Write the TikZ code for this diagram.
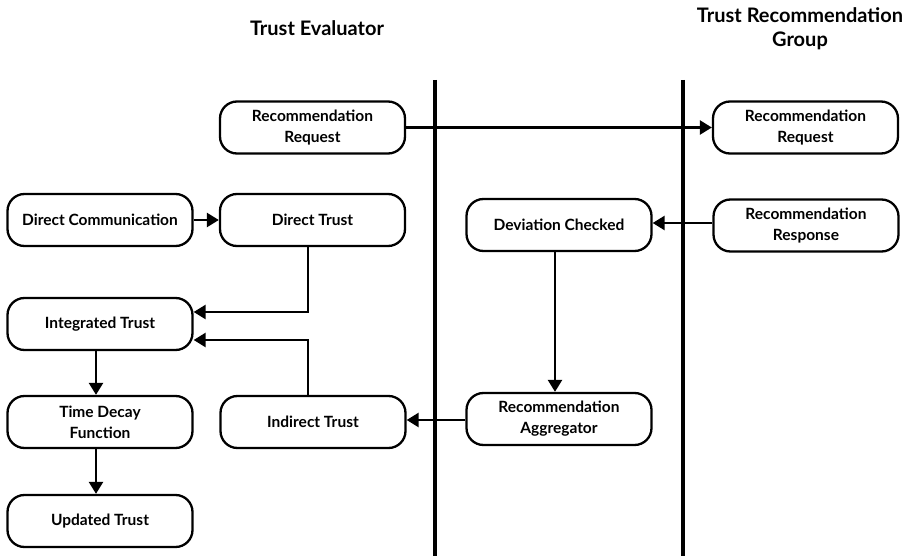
\documentclass[tikz,border=0pt]{standalone}
\usepackage{fontspec}
\setmainfont{Lato}
\usetikzlibrary{arrows.meta}
\begin{document}
\begin{tikzpicture}[x=1pt,y=-1pt,
  box/.style={draw, line width=2.3pt, rounded corners=17pt, minimum width=185pt, minimum height=52pt, align=center, inner sep=0pt, font=\fontsize{15.5}{21}\selectfont\bfseries},
  head/.style={align=center, font=\fontsize{20}{24}\selectfont\bfseries},
  conn/.style={line width=2.5pt, -{Triangle[length=12pt,width=14pt]}},
  lane/.style={line width=4pt}]
\useasboundingbox (0,0) rectangle (910,559);
\node[head] (h1) at (317,28) {Trust Evaluator};
\node[head] (h2) at (800,29) {Trust Recommendation\\Group};
\coordinate (l1t) at (435,80); \coordinate (l1b) at (435,556);
\coordinate (l2t) at (683,80); \coordinate (l2b) at (683,556);
\draw[lane] (l1t) -- (l1b);
\draw[lane] (l2t) -- (l2b);
\node[box] (rr1) at (312.5,127.5) {Recommendation\\Request};
\node[box] (rr2) at (805.5,127.5) {Recommendation\\Request};
\node[box] (dc) at (100,220) {Direct Communication};
\node[box] (dt) at (312.5,220) {Direct Trust};
\node[box] (it) at (100,324) {Integrated Trust};
\node[box] (td) at (100,422) {Time Decay\\Function};
\node[box] (ut) at (100,521) {Updated Trust};
\node[box] (ind) at (313,422) {Indirect Trust};
\node[box] (dev) at (559,225) {Deviation Checked};
\node[box] (resp) at (806,225.5) {Recommendation\\Response};
\node[box] (agg) at (559,419) {Recommendation\\Aggregator};
\draw[conn] (rr1) -- (rr2);
\draw[conn] (dc) -- (dt);
\draw[conn] (dt.south -| 308,0) |- (it.east |- 0,312);
\draw[conn] (ind.north -| 308,0) |- (it.east |- 0,340);
\draw[conn] (it.south -| 96,0) -- (td.north -| 96,0);
\draw[conn] (td.south -| 96,0) -- (ut.north -| 96,0);
\draw[conn] (resp.west |- 0,223) -- (dev.east |- 0,223);
\draw[conn] (dev.south -| 555,0) -- (agg.north -| 555,0);
\draw[conn] (agg.west |- 0,420) -- (ind.east |- 0,420);
\end{tikzpicture}
\end{document}
